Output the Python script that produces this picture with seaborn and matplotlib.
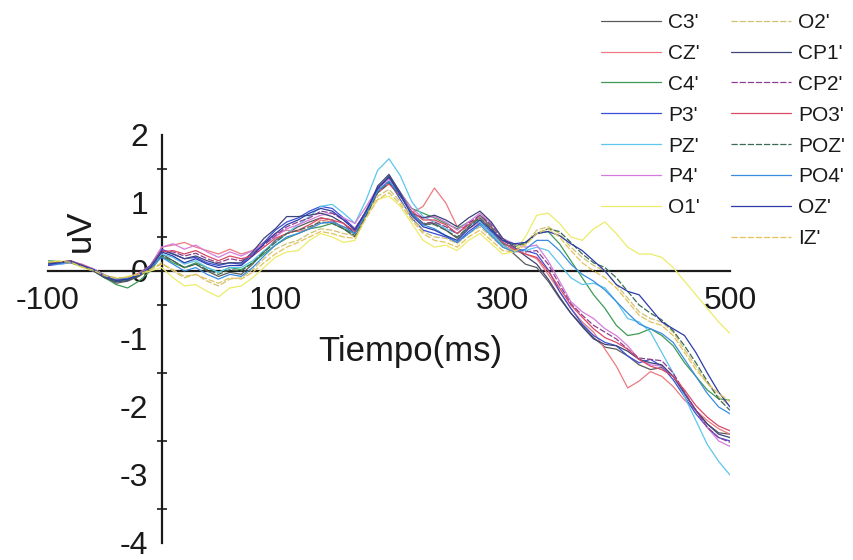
import numpy as np
import pandas as pd
import matplotlib
matplotlib.use("Agg")
import matplotlib.pyplot as plt
import seaborn as sns
from matplotlib.ticker import MultipleLocator, FixedLocator, FixedFormatter

# ---------------- data (uV, sampled every 10 ms from -100 to 500 ms) ----------------
time_ms = list(range(-100, 501, 10))

C3 = [0.08, 0.12, 0.13, 0.07, 0.00, -0.10, -0.18, -0.15, -0.08, 0.03,
      0.25, 0.15, 0.05, 0.10, 0.00, -0.08, -0.02, -0.05, 0.10, 0.28,
      0.45, 0.55, 0.65, 0.72, 0.78, 0.75, 0.62, 0.50, 0.82, 1.20,
      1.40, 1.15, 0.85, 0.68, 0.70, 0.60, 0.48, 0.65, 0.82, 0.65,
      0.40, 0.25, 0.10,
      0.05, -0.15, -0.40, -0.62, -0.80, -0.98, -1.12, -1.15, -1.25, -1.38,
      -1.45, -1.42, -1.55, -1.80, -2.05, -2.25, -2.38, -2.40]
CZ = [0.10, 0.13, 0.15, 0.09, 0.03, -0.06, -0.12, -0.10, -0.03, 0.08,
      0.35, 0.38, 0.42, 0.35, 0.30, 0.25, 0.32, 0.25, 0.30, 0.42,
      0.55, 0.60, 0.58, 0.62, 0.75, 0.72, 0.65, 0.60, 0.88, 1.15,
      1.30, 1.10, 0.85, 0.95, 1.22, 1.00, 0.65, 0.62, 0.72, 0.55,
      0.38, 0.30, 0.25,
      0.18, -0.05, -0.30, -0.55, -0.75, -0.90, -1.15, -1.40, -1.72, -1.62,
      -1.48, -1.55, -1.70, -1.90, -2.05, -2.20, -2.32, -2.40]
C4 = [0.15, 0.14, 0.12, 0.06, 0.00, -0.10, -0.20, -0.25, -0.15, 0.00,
      0.22, 0.12, 0.05, 0.12, 0.05, -0.02, 0.05, 0.02, 0.12, 0.25,
      0.38, 0.48, 0.55, 0.62, 0.65, 0.70, 0.62, 0.55, 0.90, 1.22,
      1.38, 1.15, 0.92, 0.85, 0.78, 0.70, 0.62, 0.72, 0.75, 0.55,
      0.40, 0.35, 0.42,
      0.55, 0.58, 0.40, 0.15, -0.10, -0.35, -0.55, -0.80, -0.95, -0.92,
      -0.85, -0.95, -1.10, -1.35, -1.55, -1.75, -1.88, -1.90]
P3 = [0.08, 0.10, 0.12, 0.08, 0.02, -0.08, -0.15, -0.12, -0.05, 0.08,
      0.32, 0.25, 0.18, 0.20, 0.12, 0.08, 0.12, 0.10, 0.25, 0.42,
      0.60, 0.72, 0.78, 0.88, 0.95, 0.92, 0.78, 0.62, 0.88, 1.18,
      1.32, 1.05, 0.78, 0.60, 0.55, 0.50, 0.42, 0.58, 0.70, 0.58,
      0.42, 0.32, 0.30,
      0.25, 0.02, -0.30, -0.55, -0.78, -0.95, -1.05, -1.10, -1.25, -1.35,
      -1.30, -1.40, -1.60, -1.85, -2.10, -2.30, -2.45, -2.50]
PZ = [0.12, 0.10, 0.13, 0.08, 0.03, -0.06, -0.12, -0.10, -0.05, 0.05,
      0.25, 0.20, 0.10, 0.15, 0.05, -0.02, 0.05, 0.05, 0.15, 0.30,
      0.42, 0.55, 0.68, 0.80, 0.95, 0.98, 0.85, 0.70, 1.05, 1.48,
      1.65, 1.40, 1.02, 0.80, 0.72, 0.62, 0.55, 0.68, 0.72, 0.55,
      0.38, 0.28, 0.30,
      0.35, 0.30, 0.10, -0.10, -0.20, -0.18, -0.25, -0.45, -0.70, -0.75,
      -0.90, -1.20, -1.50, -1.85, -2.20, -2.55, -2.80, -3.00]
P4 = [0.10, 0.12, 0.14, 0.10, 0.03, -0.06, -0.13, -0.12, -0.06, 0.06,
      0.35, 0.40, 0.32, 0.38, 0.28, 0.20, 0.28, 0.22, 0.30, 0.40,
      0.50, 0.62, 0.68, 0.75, 0.82, 0.85, 0.78, 0.70, 0.95, 1.22,
      1.35, 1.15, 0.92, 0.78, 0.80, 0.72, 0.60, 0.72, 0.85, 0.70,
      0.48, 0.40, 0.35,
      0.38, 0.15, -0.15, -0.45, -0.60, -0.70, -0.85, -0.95, -1.10, -1.30,
      -1.38, -1.40, -1.55, -1.80, -2.05, -2.30, -2.50, -2.58]
O1 = [0.12, 0.15, 0.13, 0.05, 0.00, -0.08, -0.12, -0.08, -0.05, 0.00,
      0.05, -0.10, -0.22, -0.20, -0.30, -0.38, -0.25, -0.22, -0.10, 0.05,
      0.20, 0.28, 0.30, 0.45, 0.55, 0.50, 0.42, 0.45, 0.80, 1.05,
      1.10, 0.95, 0.70, 0.45, 0.35, 0.38, 0.30, 0.45, 0.55, 0.40,
      0.25, 0.28, 0.50,
      0.82, 0.85, 0.70, 0.50, 0.45, 0.62, 0.72, 0.55, 0.35, 0.25,
      0.25, 0.20, 0.05, -0.15, -0.35, -0.55, -0.75, -0.92]
O2 = [0.12, 0.12, 0.12, 0.08, 0.02, -0.06, -0.10, -0.10, -0.05, 0.02,
      0.12, 0.00, -0.10, -0.05, -0.15, -0.22, -0.12, -0.10, 0.02, 0.18,
      0.32, 0.40, 0.45, 0.55, 0.62, 0.60, 0.55, 0.52, 0.82, 1.10,
      1.20, 1.02, 0.80, 0.58, 0.50, 0.48, 0.40, 0.55, 0.65, 0.50,
      0.35, 0.30, 0.40,
      0.60, 0.65, 0.55, 0.35, 0.20, 0.08, 0.00, -0.20, -0.40, -0.60,
      -0.70, -0.75, -0.90, -1.15, -1.40, -1.65, -1.85, -1.98]
CP1 = [0.10, 0.13, 0.15, 0.08, 0.00, -0.10, -0.16, -0.14, -0.06, 0.06,
       0.30, 0.25, 0.18, 0.22, 0.15, 0.10, 0.12, 0.12, 0.28, 0.48,
       0.62, 0.80, 0.80, 0.82, 0.85, 0.80, 0.70, 0.55, 0.85, 1.25,
       1.42, 1.15, 0.85, 0.78, 0.82, 0.75, 0.65, 0.78, 0.88, 0.72,
       0.48, 0.35, 0.22,
       0.10, -0.12, -0.38, -0.62, -0.82, -1.00, -1.08, -1.10, -1.18, -1.30,
       -1.35, -1.38, -1.55, -1.80, -2.05, -2.25, -2.40, -2.45]
CP2 = [0.09, 0.12, 0.14, 0.08, 0.02, -0.08, -0.14, -0.12, -0.06, 0.05,
       0.30, 0.28, 0.22, 0.26, 0.18, 0.12, 0.18, 0.15, 0.25, 0.38,
       0.52, 0.65, 0.72, 0.78, 0.88, 0.85, 0.75, 0.62, 0.88, 1.20,
       1.38, 1.12, 0.85, 0.70, 0.72, 0.65, 0.55, 0.70, 0.82, 0.68,
       0.45, 0.35, 0.28,
       0.30, 0.10, -0.20, -0.48, -0.65, -0.80, -0.90, -1.00, -1.15, -1.28,
       -1.30, -1.32, -1.50, -1.78, -2.05, -2.30, -2.45, -2.52]
PO3 = [0.11, 0.12, 0.14, 0.09, 0.02, -0.07, -0.13, -0.11, -0.05, 0.06,
       0.28, 0.30, 0.25, 0.30, 0.22, 0.15, 0.22, 0.18, 0.22, 0.35,
       0.48, 0.55, 0.60, 0.68, 0.78, 0.75, 0.70, 0.58, 0.85, 1.15,
       1.28, 1.10, 0.88, 0.75, 0.75, 0.68, 0.55, 0.68, 0.78, 0.62,
       0.42, 0.32, 0.25,
       0.20, 0.00, -0.25, -0.50, -0.68, -0.85, -0.98, -1.05, -1.15, -1.30,
       -1.40, -1.45, -1.55, -1.75, -1.98, -2.15, -2.28, -2.35]
POZ = [0.12, 0.13, 0.13, 0.07, 0.01, -0.09, -0.15, -0.13, -0.07, 0.04,
       0.22, 0.15, 0.05, 0.10, 0.02, -0.05, 0.02, 0.00, 0.12, 0.28,
       0.42, 0.55, 0.60, 0.65, 0.72, 0.70, 0.62, 0.52, 0.82, 1.15,
       1.30, 1.10, 0.85, 0.70, 0.68, 0.60, 0.50, 0.65, 0.78, 0.62,
       0.45, 0.38, 0.40,
       0.55, 0.62, 0.58, 0.42, 0.25, 0.12, 0.05, -0.10, -0.30, -0.50,
       -0.62, -0.72, -0.88, -1.10, -1.35, -1.62, -1.88, -2.05]
PO4 = [0.10, 0.11, 0.13, 0.08, 0.02, -0.07, -0.12, -0.11, -0.05, 0.05,
       0.20, 0.10, 0.00, 0.05, -0.05, -0.12, -0.05, -0.08, 0.05, 0.22,
       0.38, 0.50, 0.55, 0.62, 0.70, 0.72, 0.65, 0.55, 0.85, 1.18,
       1.32, 1.12, 0.85, 0.68, 0.62, 0.52, 0.42, 0.55, 0.68, 0.52,
       0.35, 0.28, 0.32,
       0.45, 0.45, 0.30, 0.10, -0.05, -0.15, -0.28, -0.45, -0.62, -0.78,
       -0.85, -0.92, -1.05, -1.30, -1.55, -1.80, -2.00, -2.10]
OZ = [0.10, 0.12, 0.14, 0.08, 0.02, -0.08, -0.14, -0.12, -0.06, 0.05,
      0.28, 0.22, 0.12, 0.18, 0.10, 0.05, 0.08, 0.08, 0.22, 0.40,
      0.55, 0.68, 0.75, 0.85, 0.92, 0.88, 0.75, 0.60, 0.88, 1.22,
      1.38, 1.12, 0.82, 0.65, 0.60, 0.52, 0.45, 0.62, 0.75, 0.60,
      0.45, 0.40, 0.42,
      0.55, 0.58, 0.52, 0.40, 0.30, 0.15, 0.00, -0.20, -0.30, -0.35,
      -0.55, -0.75, -0.85, -0.95, -1.20, -1.50, -1.78, -2.00]
IZ = [0.13, 0.14, 0.13, 0.06, 0.01, -0.07, -0.11, -0.09, -0.05, 0.02,
      0.10, 0.02, -0.08, -0.05, -0.12, -0.18, -0.10, -0.12, -0.02, 0.12,
      0.25, 0.35, 0.42, 0.50, 0.58, 0.55, 0.50, 0.48, 0.78, 1.05,
      1.15, 0.98, 0.75, 0.55, 0.45, 0.42, 0.35, 0.50, 0.60, 0.45,
      0.30, 0.28, 0.38,
      0.55, 0.62, 0.50, 0.30, 0.12, 0.00, -0.10, -0.25, -0.45, -0.65,
      -0.75, -0.80, -0.95, -1.20, -1.45, -1.65, -1.80, -1.92]

channel_names = ["C3'", "CZ'", "C4'", "P3'", "PZ'", "P4'", "O1'",
                 "O2'", "CP1'", "CP2'", "PO3'", "POZ'", "PO4'", "OZ'", "IZ'"]
channel_values = [C3, CZ, C4, P3, PZ, P4, O1, O2, CP1, CP2, PO3, POZ, PO4, OZ, IZ]

x_ticks = [-100, 0, 100, 200, 300, 400, 500]
x_tick_labels = ["-100", "", "100", "", "300", "", "500"]
y_ticks = [-4, -3, -2, -1, 0, 1, 2]
y_tick_labels = ["-4", "-3", "-2", "-1", "0", "1", "2"]

# ---------------- styling ----------------
colors = {
    "C3'": "#5a5a5a", "CZ'": "#ec7a80", "C4'": "#3f9a55", "P3'": "#3a4fd8",
    "PZ'": "#5cc6ec", "P4'": "#d47cdc", "O1'": "#ecec6a",
    "O2'": "#cfc272", "CP1'": "#3c4478", "CP2'": "#8c4090", "PO3'": "#d84a66",
    "POZ'": "#3c6c54", "PO4'": "#3a8ce0", "OZ'": "#2b3ca8", "IZ'": "#e4c25a",
}
dashed = {"O2'", "CP2'", "POZ'", "IZ'"}

rows = []
for name, vals in zip(channel_names, channel_values):
    for t, v in zip(time_ms, vals):
        rows.append((name, t, v))
df = pd.DataFrame(rows, columns=["canal", "tiempo", "uV"])

sns.set_theme(style="white")
plt.rcParams["font.family"] = ["Liberation Sans", "DejaVu Sans"]

fig = plt.figure(figsize=(8.54, 5.60), dpi=100)
ax = fig.add_axes([0.0562, 0.0304, 0.7986, 0.7286])

for name in channel_names:
    sub = df[df["canal"] == name]
    ls = (0, (5, 1.5)) if name in dashed else "-"
    sns.lineplot(data=sub, x="tiempo", y="uV", ax=ax, color=colors[name],
                 linewidth=0.9, linestyle=ls, label=name, legend=False)

ax.set_xlim(-100, 500)
ax.set_ylim(-4, 2)

for s in ["top", "right"]:
    ax.spines[s].set_visible(False)
ax.spines["left"].set_position(("data", 0))
ax.spines["bottom"].set_position(("data", 0))
for s in ["left", "bottom"]:
    ax.spines[s].set_color("#1a1a1a")
    ax.spines[s].set_linewidth(1.6)
    ax.spines[s].set_zorder(0.5)

ax.xaxis.set_major_locator(FixedLocator(x_ticks))
ax.xaxis.set_major_formatter(FixedFormatter(x_tick_labels))
ax.yaxis.set_major_locator(FixedLocator(y_ticks))
ax.yaxis.set_major_formatter(FixedFormatter(y_tick_labels))
ax.yaxis.set_minor_locator(MultipleLocator(0.5))

ax.tick_params(axis="both", which="major", direction="inout", length=11,
               width=1.4, color="#1a1a1a", labelsize=23, labelcolor="#1a1a1a")
ax.tick_params(axis="x", which="major", pad=5)
ax.tick_params(axis="y", which="major", pad=4)
ax.tick_params(axis="y", which="minor", direction="inout", length=7,
               width=1.2, color="#1a1a1a", left=True)

ax.set_xlabel("Tiempo(ms)", fontsize=25, color="#1a1a1a")
ax.xaxis.set_label_coords(0.531, 0.51)
ax.set_ylabel("uV", fontsize=25, color="#1a1a1a")
ax.yaxis.set_label_coords(0.072, 0.765)

handles = ax.get_lines()[:len(channel_names)]
leg_kw = dict(frameon=False, fontsize=15, handlelength=2.86, handletextpad=0.38,
              labelspacing=0.57, borderpad=0, borderaxespad=0, loc="upper left")
leg1 = fig.legend(handles[:7], channel_names[:7],
                  bbox_to_anchor=(601 / 854, 1 - 13 / 560), **leg_kw)
leg2 = fig.legend(handles[7:], channel_names[7:],
                  bbox_to_anchor=(731 / 854, 1 - 13 / 560), **leg_kw)
for leg in (leg1, leg2):
    for txt in leg.get_texts():
        txt.set_color("#1a1a1a")

fig.savefig("out.png", dpi=100, facecolor="white")
